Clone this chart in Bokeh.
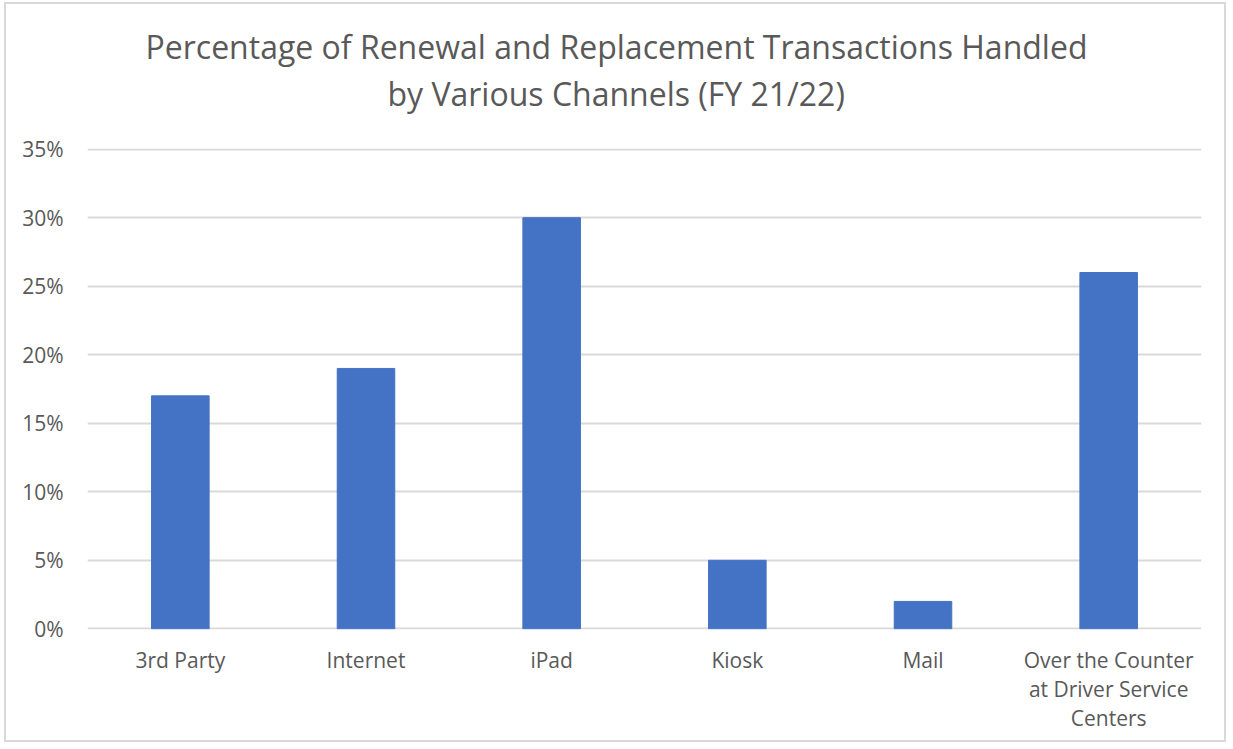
from bokeh.plotting import figure
from bokeh.models import NumeralTickFormatter, FactorRange, Range1d, Title
from bokeh.embed import file_html
from bokeh.resources import INLINE

categories = ["3rd Party", "Internet", "iPad", "Kiosk", "Mail",
              "Over the Counter\nat Driver Service\nCenters"]
percent_values = [17, 19, 30, 5, 2, 26]
title_line1 = "Percentage of Renewal and Replacement Transactions Handled"
title_line2 = "by Various Channels (FY 21/22)"

fractions = [v / 100 for v in percent_values]

FONT = "Open Sans"
GRAY = "#595959"

p = figure(width=1222, height=740, x_range=FactorRange(*categories),
           y_range=Range1d(-0.0005, 0.3505), output_backend="svg", toolbar_location=None,
           title=title_line1)

p.vbar(x=categories, top=fractions, width=0.31, color="#4472C4", line_color="#4472C4")

def style_title(t, off):
    t.align = "left"
    t.text_font = FONT
    t.text_font_size = "32px"
    t.text_font_style = "normal"
    t.text_color = GRAY
    t.offset = off

style_title(p.title, 58)
p.title.standoff = 0
spacer = Title(text="\u00a0", text_font_size="1px", standoff=29)
p.add_layout(spacer, "above")
t2 = Title(text=title_line2)
style_title(t2, 300)
t2.standoff = 4
p.add_layout(t2, "above")

p.min_border_left = 81
p.min_border_right = 27
p.min_border_bottom = 115
p.min_border_top = 144

p.yaxis.formatter = NumeralTickFormatter(format="0%")
p.yaxis.ticker = [0, 0.05, 0.10, 0.15, 0.20, 0.25, 0.30, 0.35]
for ax in (p.xaxis[0], p.yaxis[0]):
    ax.axis_line_color = None
    ax.major_tick_line_color = None
    ax.minor_tick_line_color = None
    ax.major_label_text_font = FONT
    ax.major_label_text_font_size = "21px"
    ax.major_label_text_color = GRAY
p.xaxis.major_label_text_line_height = 1.05
p.yaxis.major_label_standoff = 18
p.xaxis.major_label_standoff = 10

p.xgrid.grid_line_color = None
p.ygrid.grid_line_color = "#D9D9D9"
p.ygrid.grid_line_width = 2
p.outline_line_color = None
p.styles = {"border": "2px solid #D9D9D9", "box-sizing": "border-box",
            "margin-left": "4px", "margin-top": "2px"}

open("out.html", "w").write(file_html(p, INLINE))
